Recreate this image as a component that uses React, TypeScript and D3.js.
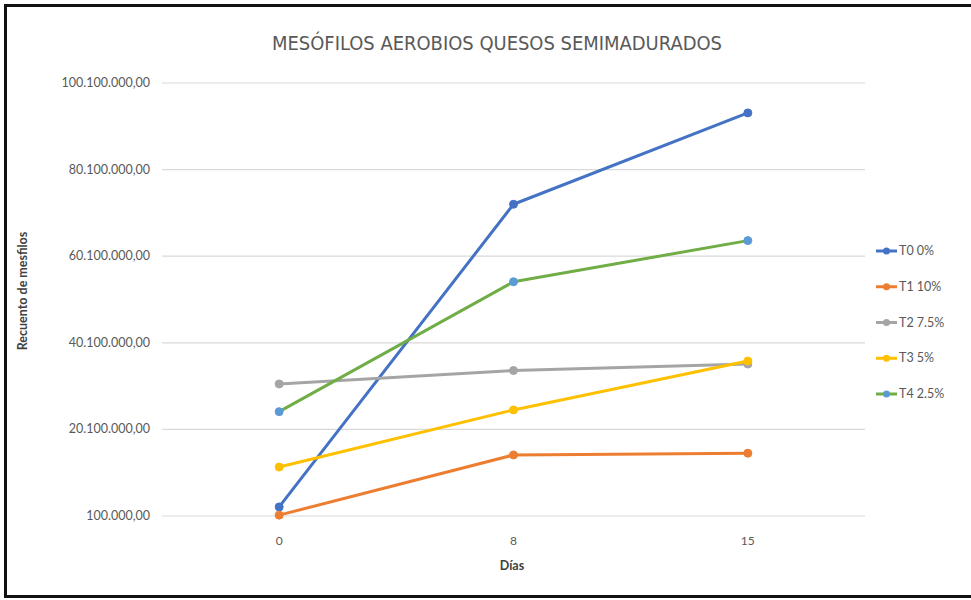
import React from "react";
import * as d3 from "d3";

const days = ["0", "8", "15"];
const seriesNames = ["T0 0%", "T1 10%", "T2 7.5%", "T3 5%", "T4 2.5%"];
const t0 = [2200000, 72100000, 93200000];
const t1 = [300000, 14200000, 14600000];
const t2 = [30600000, 33700000, 35200000];
const t3 = [11400000, 24600000, 35900000];
const t4 = [24200000, 54200000, 63700000];
const yTicks = [100000, 20100000, 40100000, 60100000, 80100000, 100100000];

const lineColors = ["#4472C4", "#ED7D31", "#A5A5A5", "#FFC000", "#70AD47"];
const markerColors = ["#4472C4", "#ED7D31", "#A5A5A5", "#FFC000", "#5B9BD5"];

const locale = d3.formatLocale({ decimal: ",", thousands: ".", grouping: [3], currency: ["", ""] });
const fmt = locale.format(",.2f");

export default function App() {
  const W = 971, H = 600;
  const left = 162, right = 865, top = 83, bottom = 516;
  const x = d3.scalePoint<string>().domain(days).range([left, right]).padding(0.5);
  const y = d3.scaleLinear().domain([100000, 100100000]).range([bottom, top]);
  const data = [t0, t1, t2, t3, t4];
  const line = d3.line<number>().x((_, i) => x(days[i]) as number).y((d) => y(d));
  const font = "Lato, 'Open Sans', sans-serif";
  const legendY = d3.scalePoint<string>().domain(seriesNames).range([251, 394]);

  return (
    <svg width={W} height={H} style={{ position: "absolute", left: 0, top: 0, background: "#fff" }} fontFamily={font}>
      <rect x={0} y={0} width={W} height={H} fill="#fff" />
      <path d="M 1100 5.5 H 5.5 V 596.5 H 1100" fill="none" stroke="#111" strokeWidth={3} />
      <text x={497} y={50} textAnchor="middle" fontSize={19} fill="#595959"
        fontFamily="'Liberation Sans Narrow', 'DejaVu Sans Condensed', sans-serif"
        textLength={450} lengthAdjust="spacingAndGlyphs">MESÓFILOS AEROBIOS QUESOS SEMIMADURADOS</text>
      {yTicks.map((t) => (
        <g key={t}>
          <line x1={left} x2={right} y1={y(t)} y2={y(t)} stroke="#D9D9D9" strokeWidth={1.2} />
          <text x={150} y={y(t) + 4} textAnchor="end" fontSize={12.5} fill="#595959">{fmt(t)}</text>
        </g>
      ))}
      {days.map((d) => (
        <text key={d} x={x(d)} y={545} textAnchor="middle" fontSize={12} fill="#595959">{d}</text>
      ))}
      <text x={512} y={570} textAnchor="middle" fontSize={12.5} fontWeight="bold" fill="#404040">Días</text>
      <text transform="translate(27,291) rotate(-90)" textAnchor="middle" fontSize={12.5} fontWeight="bold" fill="#404040">Recuento de mesfilos</text>
      {data.map((s, i) => (
        <g key={seriesNames[i]}>
          <path d={line(s) as string} fill="none" stroke={lineColors[i]} strokeWidth={3} strokeLinejoin="round" />
          {s.map((v, j) => (
            <circle key={j} cx={x(days[j])} cy={y(v)} r={4} fill={markerColors[i]} stroke={markerColors[i]} />
          ))}
        </g>
      ))}
      {seriesNames.map((n, i) => {
        const ly = legendY(n) as number;
        return (
          <g key={n}>
            <line x1={876} x2={897} y1={ly} y2={ly} stroke={lineColors[i]} strokeWidth={3} />
            <circle cx={886.5} cy={ly} r={3.5} fill={markerColors[i]} />
            <text x={899} y={ly + 4} fontSize={12.5} fill="#595959">{n}</text>
          </g>
        );
      })}
    </svg>
  );
}
